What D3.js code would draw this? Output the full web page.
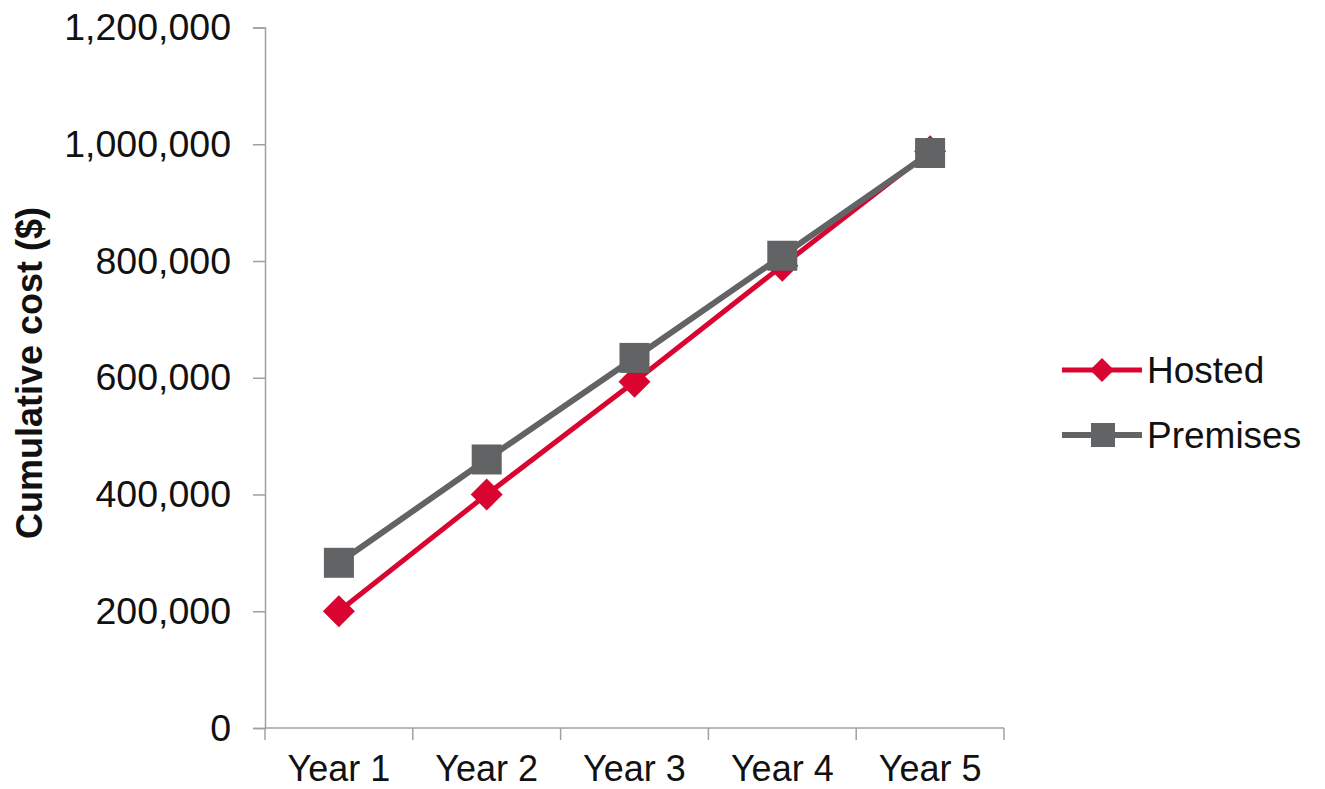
<!DOCTYPE html>
<html>
<head>
<meta charset="utf-8">
<script src="https://cdn.jsdelivr.net/npm/d3@7"></script>
<style>
  html, body { margin: 0; padding: 0; background: #fff; }
  svg { display: block; font-family: "Liberation Sans", Arial, sans-serif; }
</style>
</head>
<body>
<svg id="chart" width="1325" height="789"></svg>
<script>
// Cumulative cost over five years, hosted vs. on-premises
const years = ["Year 1", "Year 2", "Year 3", "Year 4", "Year 5"];
const hosted = [200000, 400000, 593000, 792000, 988000];
const premises = [283000, 460000, 634000, 809000, 985000];
const yTicks = [0, 200000, 400000, 600000, 800000, 1000000, 1200000];
const seriesNames = ["Hosted", "Premises"];

const RED = "#d9042f";
const GRAY = "#626365";
const AXIS = "#a0a0a0";

const svg = d3.select("#chart");
const m = { left: 265, right: 1004, top: 27.5, bottom: 728 };

const x = d3.scaleBand().domain(years).range([m.left, m.right]);
const y = d3.scaleLinear().domain([0, 1200000]).range([m.bottom, m.top]);
const fmt = d3.format(",");

// y axis
const yAxis = svg.append("g")
  .attr("transform", `translate(${m.left},0)`)
  .call(d3.axisLeft(y).tickValues(yTicks).tickFormat(fmt).tickSizeOuter(0).tickSize(12).tickPadding(22));
yAxis.select(".domain").attr("stroke", AXIS).attr("stroke-width", 1.5);
yAxis.selectAll(".tick line").attr("stroke", AXIS).attr("stroke-width", 1.5);
yAxis.selectAll(".tick text")
  .attr("font-size", 37.5).attr("fill", "#111")
  .attr("font-family", "Liberation Sans, Arial, sans-serif");

// x axis with boundary ticks between categories
const xAxis = svg.append("g").attr("transform", `translate(0,${m.bottom})`);
xAxis.append("line")
  .attr("x1", m.left).attr("x2", m.right)
  .attr("stroke", AXIS).attr("stroke-width", 1.5);
const bounds = years.map(d => x(d)).concat([m.right]);
xAxis.selectAll(".bt").data(bounds).join("line")
  .attr("x1", d => d).attr("x2", d => d)
  .attr("y1", 0).attr("y2", 12)
  .attr("stroke", AXIS).attr("stroke-width", 1.5);
xAxis.selectAll(".xl").data(years).join("text")
  .attr("x", d => x(d) + x.bandwidth() / 2)
  .attr("y", 53)
  .attr("text-anchor", "middle")
  .attr("font-size", 36).attr("fill", "#111")
  .text(d => d);

// y axis title
svg.append("text")
  .attr("transform", `translate(42,373) rotate(-90)`)
  .attr("text-anchor", "middle")
  .attr("font-size", 36).attr("font-weight", "bold").attr("fill", "#111")
  .text("Cumulative cost ($)");

const cx = d => x(d) + x.bandwidth() / 2;
const line = d3.line().x(d => cx(d.year)).y(d => y(d.v));

const hostedPts = years.map((yr, i) => ({ year: yr, v: hosted[i] }));
const premPts = years.map((yr, i) => ({ year: yr, v: premises[i] }));

const diamond = s => `M0,${-s}L${s},0L0,${s}L${-s},0Z`;

// Hosted series
svg.append("path").datum(hostedPts)
  .attr("d", line).attr("fill", "none")
  .attr("stroke", RED).attr("stroke-width", 5);
svg.selectAll(".hm").data(hostedPts).join("path")
  .attr("transform", d => `translate(${cx(d.year)},${y(d.v)})`)
  .attr("d", diamond(16)).attr("fill", RED);

// Premises series
svg.append("path").datum(premPts)
  .attr("d", line).attr("fill", "none")
  .attr("stroke", GRAY).attr("stroke-width", 6);
svg.selectAll(".pm").data(premPts).join("rect")
  .attr("x", d => cx(d.year) - 15).attr("y", d => y(d.v) - 15)
  .attr("width", 30).attr("height", 30).attr("fill", GRAY);

// Legend
const legend = svg.append("g").attr("transform", "translate(1062,370)");
const legendItems = [
  { name: seriesNames[0], color: RED, width: 5, marker: "diamond" },
  { name: seriesNames[1], color: GRAY, width: 6, marker: "square" }
];
legendItems.forEach((it, i) => {
  const g = legend.append("g").attr("transform", `translate(0,${i * 65})`);
  g.append("line").attr("x1", 0).attr("x2", 80)
    .attr("stroke", it.color).attr("stroke-width", it.width);
  if (it.marker === "diamond") {
    g.append("path").attr("transform", "translate(40,0)")
      .attr("d", diamond(12)).attr("fill", it.color);
  } else {
    g.append("rect").attr("x", 29).attr("y", -12).attr("width", 24).attr("height", 24)
      .attr("fill", it.color);
  }
  g.append("text").attr("x", 85).attr("y", 13)
    .attr("font-size", 37).attr("fill", "#111").text(it.name);
});
</script>
</body>
</html>
